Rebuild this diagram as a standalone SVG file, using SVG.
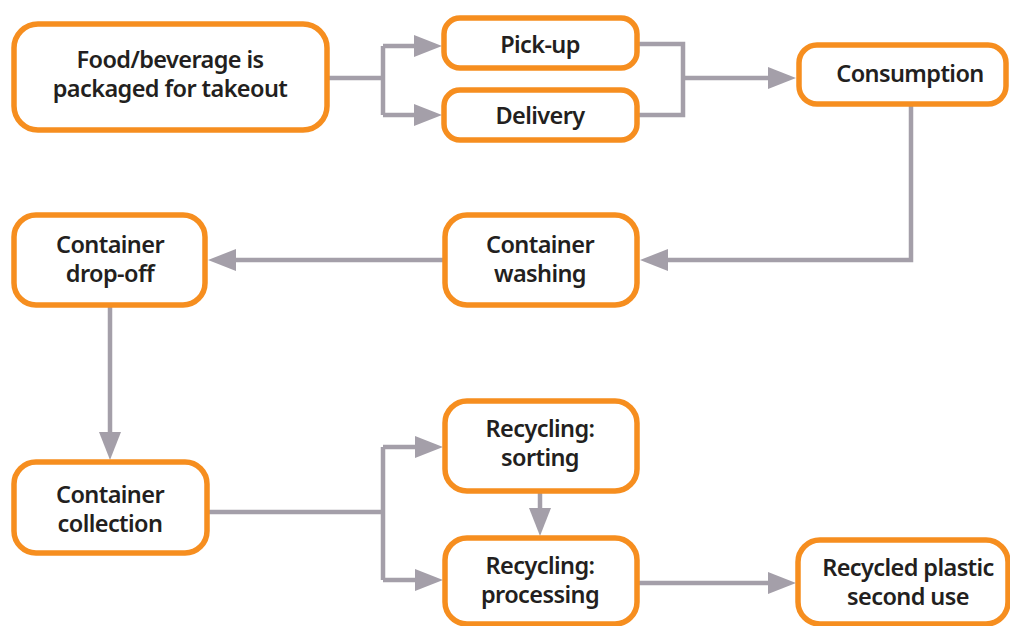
<svg xmlns="http://www.w3.org/2000/svg" width="1010" height="626" viewBox="0 0 1010 626">
<defs>
<style>
.box{fill:#fff;stroke:#f68e1f;stroke-width:5.5}
.t{font-family:"Noto Sans","Liberation Sans",sans-serif;font-weight:600;font-size:23.5px;letter-spacing:-0.6px;fill:#231f20;text-anchor:middle}
.c{fill:none;stroke:#a49fa9;stroke-width:4.5}
</style>
<marker id="ah" markerUnits="userSpaceOnUse" markerWidth="30" markerHeight="26" refX="10" refY="12" orient="auto">
<path d="M0,1 L28,12 L0,23 Z" fill="#a49fa9"/>
</marker>
</defs>
<rect width="1010" height="626" fill="#fff"/>
<g id="connectors">
<path class="c" d="M327,78 H383"/>
<path class="c" d="M383,46 V115"/>
<path class="c" d="M383,46 H424" marker-end="url(#ah)"/>
<path class="c" d="M383,115 H424" marker-end="url(#ah)"/>
<path class="c" d="M637,44 H683 V115 H637"/>
<path class="c" d="M683,78 H778" marker-end="url(#ah)"/>
<path class="c" d="M911,104 V260 H658" marker-end="url(#ah)"/>
<path class="c" d="M445,260 H226" marker-end="url(#ah)"/>
<path class="c" d="M110,305 V442" marker-end="url(#ah)"/>
<path class="c" d="M207,512 H383"/>
<path class="c" d="M383,447 V580"/>
<path class="c" d="M383,447 H425" marker-end="url(#ah)"/>
<path class="c" d="M383,580 H425" marker-end="url(#ah)"/>
<path class="c" d="M540,491 V518" marker-end="url(#ah)"/>
<path class="c" d="M637,583 H778" marker-end="url(#ah)"/>
</g>
<g id="n-food"><rect class="box" x="14" y="24" width="313" height="106" rx="24"/>
<text class="t" x="170" y="68">Food/beverage is</text><text class="t" x="170" y="97">packaged for takeout</text></g>
<g id="n-pickup"><rect class="box" x="444" y="18" width="193" height="50" rx="16"/>
<text class="t" x="540" y="53">Pick-up</text></g>
<g id="n-delivery"><rect class="box" x="444" y="90" width="193" height="50" rx="16"/>
<text class="t" x="540" y="124">Delivery</text></g>
<g id="n-consumption"><rect class="box" x="799" y="45" width="207" height="59" rx="18"/>
<text class="t" x="910" y="82">Consumption</text></g>
<g id="n-washing"><rect class="box" x="445" y="215" width="192" height="90" rx="22"/>
<text class="t" x="540" y="253">Container</text><text class="t" x="540" y="282">washing</text></g>
<g id="n-dropoff"><rect class="box" x="14" y="215" width="191" height="90" rx="22"/>
<text class="t" x="110" y="253">Container</text><text class="t" x="110" y="282">drop-off</text></g>
<g id="n-collection"><rect class="box" x="14" y="462" width="193" height="91" rx="22"/>
<text class="t" x="110" y="503">Container</text><text class="t" x="110" y="532">collection</text></g>
<g id="n-sorting"><rect class="box" x="445" y="401" width="192" height="90" rx="22"/>
<text class="t" x="540" y="437">Recycling:</text><text class="t" x="540" y="466">sorting</text></g>
<g id="n-processing"><rect class="box" x="445" y="538" width="192" height="86" rx="22"/>
<text class="t" x="540" y="574">Recycling:</text><text class="t" x="540" y="603">processing</text></g>
<g id="n-recycled"><rect class="box" x="798" y="540" width="210" height="84" rx="22"/>
<text class="t" x="908" y="576">Recycled plastic</text><text class="t" x="908" y="605">second use</text></g>
</svg>
